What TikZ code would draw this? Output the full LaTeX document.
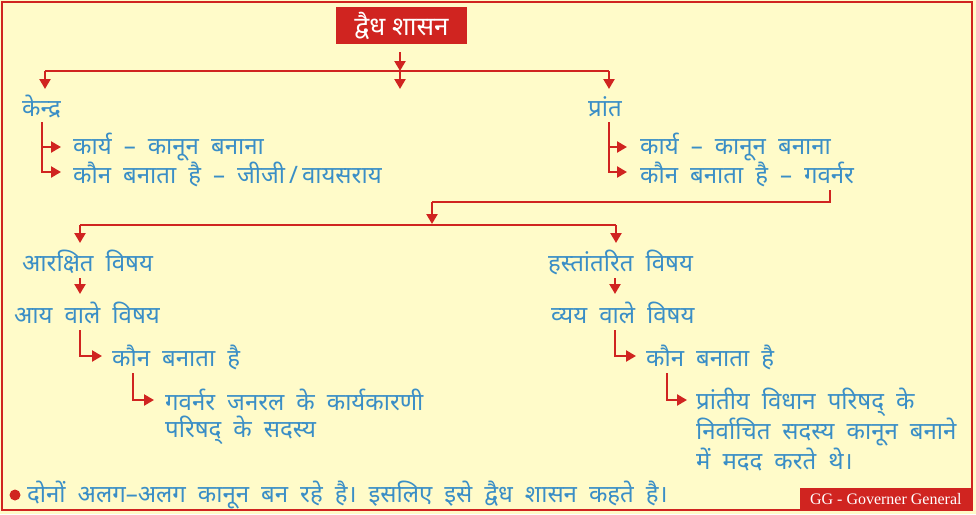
\documentclass[tikz,border=0pt]{standalone}
\usepackage{fontspec}
\setmainfont{Noto Sans}[Script=Devanagari]
\newfontfamily\serif{Liberation Serif}
\usetikzlibrary{arrows.meta}
\definecolor{bg}{HTML}{FFFBC9}
\definecolor{rd}{HTML}{D02420}
\definecolor{bl}{HTML}{3A8EC6}
\newcommand\mytxtfont{\fontsize{24}{28}\selectfont\spaceskip 0.5em\relax}
\tikzset{
  ln/.style={draw=rd, line width=2.3pt},
  ar/.style={ln, -{Triangle[length=10pt,width=11pt]}},
  txt/.style={text=bl, font=\mytxtfont, inner sep=0pt, anchor=west},
}
\begin{document}
\begin{tikzpicture}[x=1pt,y=-1pt]
\useasboundingbox (0,0) rectangle (976,514);
\fill[bg] (0,0) rectangle (976,514);
% title
\node[fill=rd, text=white, font=\bfseries\fontsize{26}{28}\selectfont, minimum width=131pt, minimum height=37pt, inner sep=0pt] (t) at (401.5,25.5) {द्वैध शासन};
\coordinate (j1) at (400,71);
\coordinate (hl) at (45,71);
\coordinate (hr) at (609,71);
\draw[ar] ([yshift=-8pt]t.south -| j1) -- (j1);
\draw[ln] (hl) -- (hr);
\draw[ar] (hl) -- ++(0,18);
\draw[ar] (j1) -- ++(0,18);
\draw[ar] (hr) -- ++(0,18);
\node[txt] (kendra) at (22,107) {केन्द्र};
\node[txt] (prant) at (588,107) {प्रांत};
% left branch
\node[txt] (k1) at (73,147) {कार्य – कानून बनाना};
\node[txt] (k2) at (73,174) {कौन बनाता है – जीजी\,/\,वायसराय};
\draw[ar] (42,122) -- (42,172) -- (61,172);
\draw[ar] (42,147) -- (61,147);
% right branch
\node[txt] (p1) at (640,147) {कार्य – कानून बनाना};
\node[txt] (p2) at (640,174) {कौन बनाता है – गवर्नर};
\draw[ar] (609,122) -- (609,172) -- (627,172);
\draw[ar] (609,147) -- (627,147);
% second split
\coordinate (g1) at (830,190);
\coordinate (j2) at (432,202);
\coordinate (h2l) at (80,225);
\coordinate (h2r) at (616,225);
\draw[ln] (g1) -- (830,202) -- (j2);
\draw[ar] (j2) -- (432,224);
\draw[ln] (h2l) -- (h2r);
\draw[ar] (h2l) -- ++(0,18);
\draw[ar] (h2r) -- ++(0,18);
\node[txt] (ar1) at (22,262) {आरक्षित विषय};
\node[txt] (hs1) at (548,262) {हस्तांतरित विषय};
\draw[ar] (80,278) -- (80,294);
\draw[ar] (615,278) -- (615,294);
\node[txt] (ay) at (14,313) {आय वाले विषय};
\node[txt] (vy) at (551,313) {व्यय वाले विषय};
\node[txt] (kb1) at (112,357) {कौन बनाता है};
\node[txt] (kb2) at (646,357) {कौन बनाता है};
\draw[ar] (80,330) -- (80,356) -- (102,356);
\draw[ar] (615,330) -- (615,356) -- (636,356);
\node[txt] (ga) at (165,400) {गवर्नर जनरल के कार्यकारणी};
\node[txt] (gb) at (165,430) {परिषद् के सदस्य};
\draw[ar] (133,373) -- (133,400) -- (154,400);
\node[txt] (pa) at (696,402) {प्रांतीय विधान परिषद् के};
\node[txt] (pb) at (696,432) {निर्वाचित सदस्य कानून बनाने};
\node[txt] (pc) at (696,460) {में मदद करते थे।};
\draw[ar] (667,373) -- (667,400) -- (687,400);
% bottom
\fill[rd] (15,495) circle (5.5pt);
\node[txt] (note) at (27,495) {दोनों अलग–अलग कानून बन रहे है। इसलिए इसे द्वैध शासन कहते है।};
\node[fill=rd, text=white, font=\serif\fontsize{16}{18}\selectfont, anchor=south east, minimum width=172pt, minimum height=22pt, inner sep=0pt] (gg) at (972,510) {GG - Governer General};
\draw[rd, line width=2pt] (2,2) rectangle (972,510);
\end{tikzpicture}
\end{document}
